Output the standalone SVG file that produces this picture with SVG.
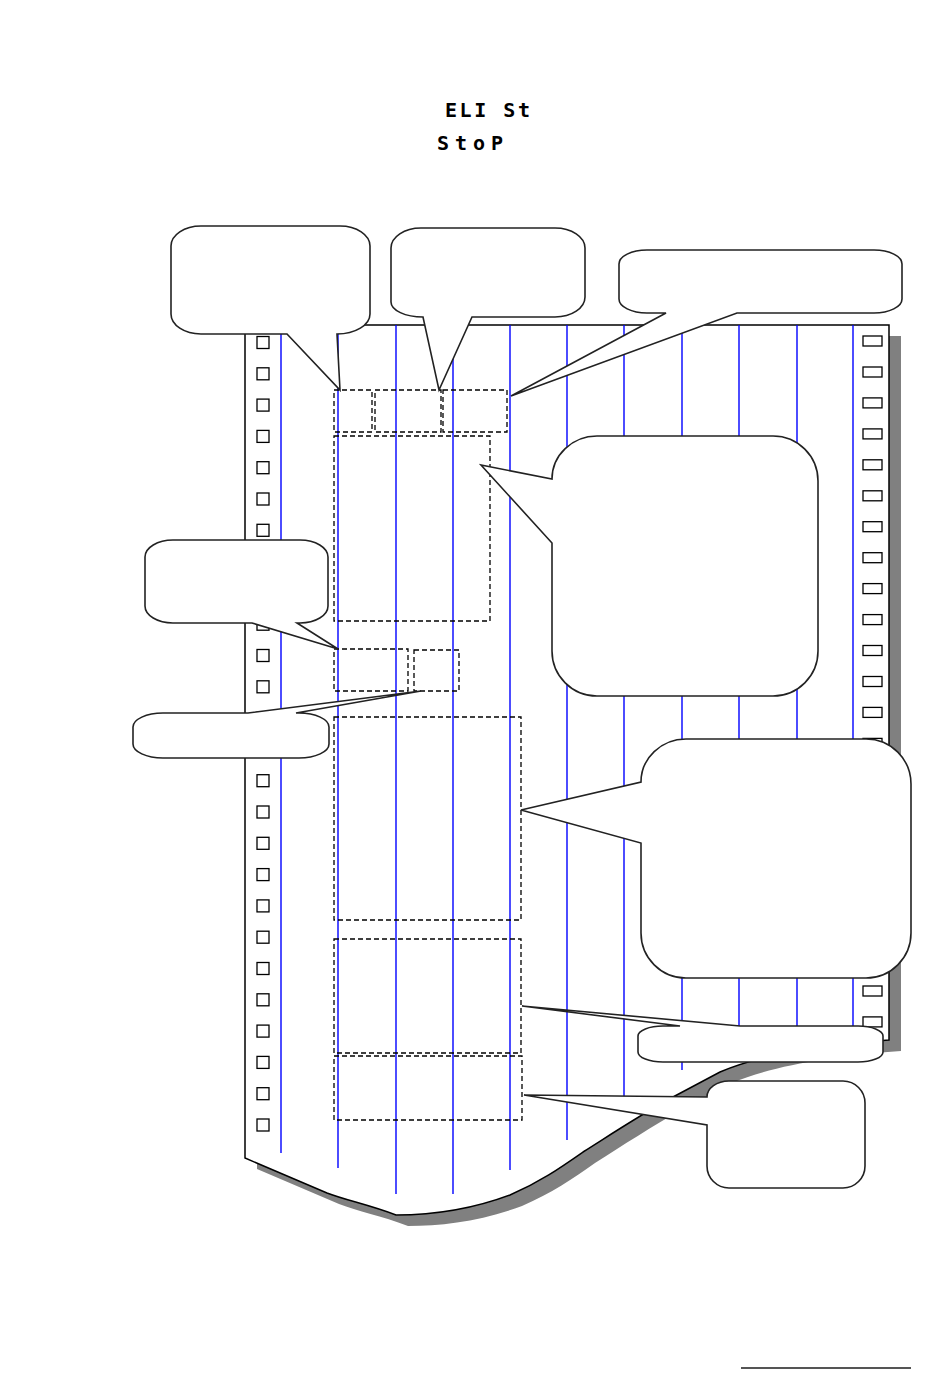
<svg xmlns="http://www.w3.org/2000/svg" width="950" height="1378" viewBox="0 0 950 1378">
<style>
.lcd{font-family:"DejaVu Sans Mono","Liberation Mono",monospace;font-weight:bold;font-size:20px;fill:#000}
.blue{stroke:#0000ff;stroke-width:1.4;fill:none}
.hl{fill:#fff;stroke:#000;stroke-width:1.3}
.hr{fill:#fff;stroke:#000;stroke-width:1.3}
.dash{fill:none;stroke:#000;stroke-width:1.3;stroke-dasharray:5,3}
.call{fill:#fff;stroke:#222;stroke-width:1.6;stroke-linejoin:miter}
</style>
<defs>
<path id="paper" d="M245,325 H889 V1040 C820,1045 760,1055 720,1072 L673,1097 C640,1115 610,1135 583,1152 C560,1168 540,1182 510,1195 C470,1210 430,1215 396,1215 C370,1205 345,1200 327,1193 L245,1158 Z"/>
</defs>
<rect width="950" height="1378" fill="#fff"/>
<g id="title">
<text class="lcd" x="445" y="117" textLength="85" lengthAdjust="spacing">ELI St</text>
<text class="lcd" x="437" y="150" textLength="66" lengthAdjust="spacing">StoP</text>
</g>
<g id="paper-sheet">
<use href="#paper" transform="translate(12,11)" fill="#808080"/>
<use href="#paper" fill="#fff" stroke="#000" stroke-width="1.5"/>
</g>
<g id="sprockets-left">
<rect class="hl" x="257" y="336.5" width="12" height="12"/>
<rect class="hl" x="257" y="367.8" width="12" height="12"/>
<rect class="hl" x="257" y="399.1" width="12" height="12"/>
<rect class="hl" x="257" y="430.4" width="12" height="12"/>
<rect class="hl" x="257" y="461.7" width="12" height="12"/>
<rect class="hl" x="257" y="493" width="12" height="12"/>
<rect class="hl" x="257" y="524.3" width="12" height="12"/>
<rect class="hl" x="257" y="555.6" width="12" height="12"/>
<rect class="hl" x="257" y="586.9" width="12" height="12"/>
<rect class="hl" x="257" y="618.2" width="12" height="12"/>
<rect class="hl" x="257" y="649.5" width="12" height="12"/>
<rect class="hl" x="257" y="680.8" width="12" height="12"/>
<rect class="hl" x="257" y="712.1" width="12" height="12"/>
<rect class="hl" x="257" y="743.4" width="12" height="12"/>
<rect class="hl" x="257" y="774.7" width="12" height="12"/>
<rect class="hl" x="257" y="806" width="12" height="12"/>
<rect class="hl" x="257" y="837.3" width="12" height="12"/>
<rect class="hl" x="257" y="868.6" width="12" height="12"/>
<rect class="hl" x="257" y="899.9" width="12" height="12"/>
<rect class="hl" x="257" y="931.2" width="12" height="12"/>
<rect class="hl" x="257" y="962.5" width="12" height="12"/>
<rect class="hl" x="257" y="993.8" width="12" height="12"/>
<rect class="hl" x="257" y="1025.1" width="12" height="12"/>
<rect class="hl" x="257" y="1056.4" width="12" height="12"/>
<rect class="hl" x="257" y="1087.7" width="12" height="12"/>
<rect class="hl" x="257" y="1119" width="12" height="12"/>
</g>
<g id="sprockets-right">
<rect class="hr" x="863" y="336" width="19" height="10"/>
<rect class="hr" x="863" y="367" width="19" height="10"/>
<rect class="hr" x="863" y="397.9" width="19" height="10"/>
<rect class="hr" x="863" y="428.9" width="19" height="10"/>
<rect class="hr" x="863" y="459.8" width="19" height="10"/>
<rect class="hr" x="863" y="490.8" width="19" height="10"/>
<rect class="hr" x="863" y="521.7" width="19" height="10"/>
<rect class="hr" x="863" y="552.7" width="19" height="10"/>
<rect class="hr" x="863" y="583.6" width="19" height="10"/>
<rect class="hr" x="863" y="614.6" width="19" height="10"/>
<rect class="hr" x="863" y="645.5" width="19" height="10"/>
<rect class="hr" x="863" y="676.5" width="19" height="10"/>
<rect class="hr" x="863" y="707.4" width="19" height="10"/>
<rect class="hr" x="863" y="738.4" width="19" height="10"/>
<rect class="hr" x="863" y="769.3" width="19" height="10"/>
<rect class="hr" x="863" y="800.3" width="19" height="10"/>
<rect class="hr" x="863" y="831.2" width="19" height="10"/>
<rect class="hr" x="863" y="862.2" width="19" height="10"/>
<rect class="hr" x="863" y="893.1" width="19" height="10"/>
<rect class="hr" x="863" y="924.1" width="19" height="10"/>
<rect class="hr" x="863" y="955" width="19" height="10"/>
<rect class="hr" x="863" y="986" width="19" height="10"/>
<rect class="hr" x="863" y="1016.9" width="19" height="10"/>
</g>
<g id="columns">
<line class="blue" x1="281" y1="325" x2="281" y2="1153"/>
<line class="blue" x1="338" y1="325" x2="338" y2="1168"/>
<line class="blue" x1="396" y1="325" x2="396" y2="1194"/>
<line class="blue" x1="453" y1="325" x2="453" y2="1194"/>
<line class="blue" x1="510" y1="325" x2="510" y2="1170"/>
<line class="blue" x1="567" y1="325" x2="567" y2="1140"/>
<line class="blue" x1="624" y1="325" x2="624" y2="1097"/>
<line class="blue" x1="682" y1="325" x2="682" y2="1070"/>
<line class="blue" x1="739" y1="325" x2="739" y2="1058"/>
<line class="blue" x1="797" y1="325" x2="797" y2="1050"/>
<line class="blue" x1="853" y1="325" x2="853" y2="1042"/>
</g>
<g id="fields">
<rect class="dash" x="334" y="390" width="38" height="42"/>
<rect class="dash" x="375" y="390" width="66" height="42"/>
<rect class="dash" x="443" y="390" width="64" height="42"/>
<rect class="dash" x="334" y="436" width="156" height="185"/>
<rect class="dash" x="334" y="649" width="74" height="42"/>
<rect class="dash" x="414" y="650" width="45" height="41"/>
<rect class="dash" x="334" y="717" width="187" height="203"/>
<rect class="dash" x="334" y="939" width="187" height="114"/>
<rect class="dash" x="334" y="1056" width="188" height="64"/>
</g>
<g id="callouts">
<path id="callout1" class="call" d="M201,226 H340 A30,20 0 0 1 370,246 V314 A33,20 0 0 1 337,334 L340,390 L287,334 H201 A30,20 0 0 1 171,314 V246 A30,20 0 0 1 201,226 Z"/>
<path id="callout2" class="call" d="M421,228 H555 A30,20 0 0 1 585,248 V297 A30,20 0 0 1 555,317 H472 L439,390 L423,317 A32,15 0 0 1 391,302 V248 A30,20 0 0 1 421,228 Z"/>
<path id="callout3" class="call" d="M647,250 H874 A28,14 0 0 1 902,264 V299 A28,14 0 0 1 874,313 H737 L511,396 L666,313 H647 A28,14 0 0 1 619,299 V264 A28,14 0 0 1 647,250 Z"/>
<path id="callout4" class="call" d="M597,436 H773 A45,45 0 0 1 818,481 V651 A45,45 0 0 1 773,696 H597 A45,45 0 0 1 552,651 V543 L481,465 L552,479 A45,43 0 0 1 597,436 Z"/>
<path id="callout5" class="call" d="M173,540 H300 A28,17 0 0 1 328,557 V606 A28,17 0 0 1 300,623 H297 L338,649 L252,623 H173 A28,17 0 0 1 145,606 V557 A28,17 0 0 1 173,540 Z"/>
<path id="callout6" class="call" d="M163,713 H248 L421,691 L296,713 H299 A30,14 0 0 1 329,727 V744 A30,14 0 0 1 299,758 H163 A30,14 0 0 1 133,744 V727 A30,14 0 0 1 163,713 Z"/>
<path id="callout7" class="call" d="M686,739 H866 A45,45 0 0 1 911,784 V933 A45,45 0 0 1 866,978 H686 A45,45 0 0 1 641,933 V843 L521,810 L641,782 A45,43 0 0 1 686,739 Z"/>
<path id="callout8" class="call" d="M663,1026 H680 L522,1006 L740,1026 H858 A25,10 0 0 1 883,1036 V1052 A25,10 0 0 1 858,1062 H663 A25,10 0 0 1 638,1052 V1036 A25,10 0 0 1 663,1026 Z"/>
<path id="callout9" class="call" d="M729,1081 H843 A22,22 0 0 1 865,1103 V1166 A22,22 0 0 1 843,1188 H729 A22,22 0 0 1 707,1166 V1125 L524,1095 L707,1097 A22,16 0 0 1 729,1081 Z"/>
</g>
<line id="footer-rule" x1="741" y1="1368" x2="911" y2="1368" stroke="#555" stroke-width="2"/>
</svg>
